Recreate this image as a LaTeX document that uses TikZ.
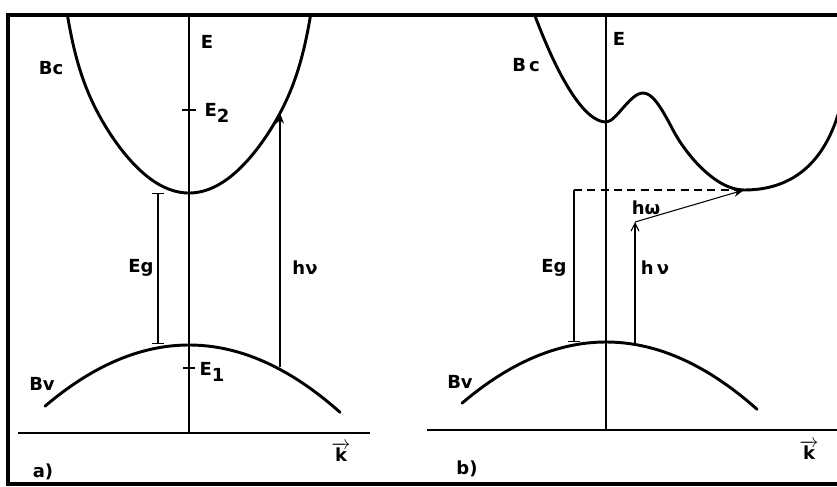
\documentclass[tikz,border=0pt]{standalone}
\usepackage{fontspec}
\setmainfont{DejaVu Sans}
\usetikzlibrary{arrows.meta}
\tikzset{
  band/.style={line width=2.2pt, line cap=round},
  axisline/.style={line width=1.3pt},
  frameline/.style={line width=2.4pt},
  thinline/.style={line width=0.8pt},
  lbl/.style={font=\fontsize{13.5}{15}\selectfont\bfseries, inner sep=0pt},
  gapbar/.style={thinline, {Bar[width=9pt]}-{Bar[width=9pt]}},
  photon/.style={thinline, -{Stealth[length=8pt,width=6pt]}},
  openarrow/.style={thinline, -{Straight Barb[length=6pt,width=6pt]}}
}
\begin{document}
\begin{tikzpicture}[x=0.75pt,y=-0.75pt]
\useasboundingbox (0,0) rectangle (837,486);
% frame
\coordinate (fTL) at (8,15);
\coordinate (fBL) at (8,484);
\coordinate (fTR) at (837,15);
\coordinate (fBR) at (837,484);
\draw[frameline] (fTR) -- (fTL) -- (fBL) -- (fBR);

% ---------------- panel a ----------------
\coordinate (aTop) at (189,15);
\coordinate (aBot) at (189,433);
\coordinate (aL) at (18,433);
\coordinate (aR) at (370,433);
\draw[axisline] (aTop) -- (aBot);
\draw[axisline] (aL) -- (aR);
\begin{scope}
\clip (0,15) rectangle (837,486);
\draw[band] plot[domain=-1.23:1.23, samples=121, smooth] ({189+100*\x}, {193-95*\x*\x-3.6*(\x*\x)^6});
\end{scope}
\draw[band] plot[domain=45:340, samples=60, smooth] (\x, {345+29.5*((\x-189)/100)^2});
\coordinate (egTopA) at (158,193);
\coordinate (egBotA) at (158,344);
\draw[gapbar] (egTopA) -- (egBotA);
\coordinate (e2L) at (182,110);
\coordinate (e2R) at (196,110);
\draw[thinline] (e2L) -- (e2R);
\coordinate (e1L) at (183,368);
\coordinate (e1R) at (195,368);
\draw[thinline] (e1L) -- (e1R);
\coordinate (hvAfrom) at (280,367);
\coordinate (hvAto) at (280,113);
\draw[photon] (hvAfrom) -- (hvAto);
\node[lbl] (Ea) at (207,42) {E};
\node[lbl] (Bca) at (51,68) {Bc};
\node[lbl] (E2a) at (217,113) {E\raisebox{-4pt}{2}};
\node[lbl] (E1a) at (212,372) {E\raisebox{-4pt}{1}};
\node[lbl] (Ega) at (141,268) {Eg};
\node[lbl] (hva) at (305,268) {hν};
\node[lbl] (Bva) at (42,384) {Bv};
\node[lbl] (ka) at (341,452) {$\overrightarrow{\mbox{\bfseries k}}$};
\node[lbl] (laba) at (43,472) {a)};

% ---------------- panel b ----------------
\coordinate (bTop) at (606,15);
\coordinate (bBot) at (606,430);
\coordinate (bL) at (427,430);
\coordinate (bR) at (837,430);
\draw[axisline] (bTop) -- (bBot);
\draw[axisline] (bL) -- (bR);
\coordinate (cStart) at (531,5);
\coordinate (cMin1) at (606,122);
\coordinate (cMax) at (643,93);
\coordinate (cMid) at (673,130);
\coordinate (cMin2) at (744,190);
\coordinate (cEnd) at (842,100);
\begin{scope}
\clip (0,15) rectangle (837,486);
\draw[band] (cStart) .. controls (558,80) and (585,122) .. (cMin1)
  .. controls (616,122) and (630,93) .. (cMax)
  .. controls (652,93) and (660,105) .. (cMid)
  .. controls (685,153) and (715,190) .. (cMin2)
  .. controls (795,190) and (828,160) .. (cEnd);
\end{scope}
\draw[band] plot[domain=462:757, samples=60, smooth] (\x, {342+29.5*((\x-606)/100)^2});
\coordinate (dashL) at (574,190);
\draw[thinline, dash pattern=on 6pt off 4pt] (dashL) -- (cMin2);
\coordinate (egBotB) at (574,342);
\draw[thinline, -{Bar[width=9pt]}] (dashL) -- (egBotB);
\coordinate (hvBfrom) at (635,343);
\coordinate (hvBto) at (635,222);
\draw[openarrow] (hvBfrom) -- (hvBto);
\draw[photon] (hvBto) -- (cMin2);
\node[lbl] (Eb) at (619,39) {E};
\node[lbl] (Bcb) at (526,65) {B\,c};
\node[lbl] (Egb) at (554,268) {Eg};
\node[lbl] (hvb) at (655,268) {h\,ν};
\node[lbl] (hwb) at (646,208) {hω};
\node[lbl] (Bvb) at (460,382) {Bv};
\node[lbl] (kb) at (809,450) {$\overrightarrow{\mbox{\bfseries k}}$};
\node[lbl] (labb) at (467,469) {b)};
\end{tikzpicture}
\end{document}
